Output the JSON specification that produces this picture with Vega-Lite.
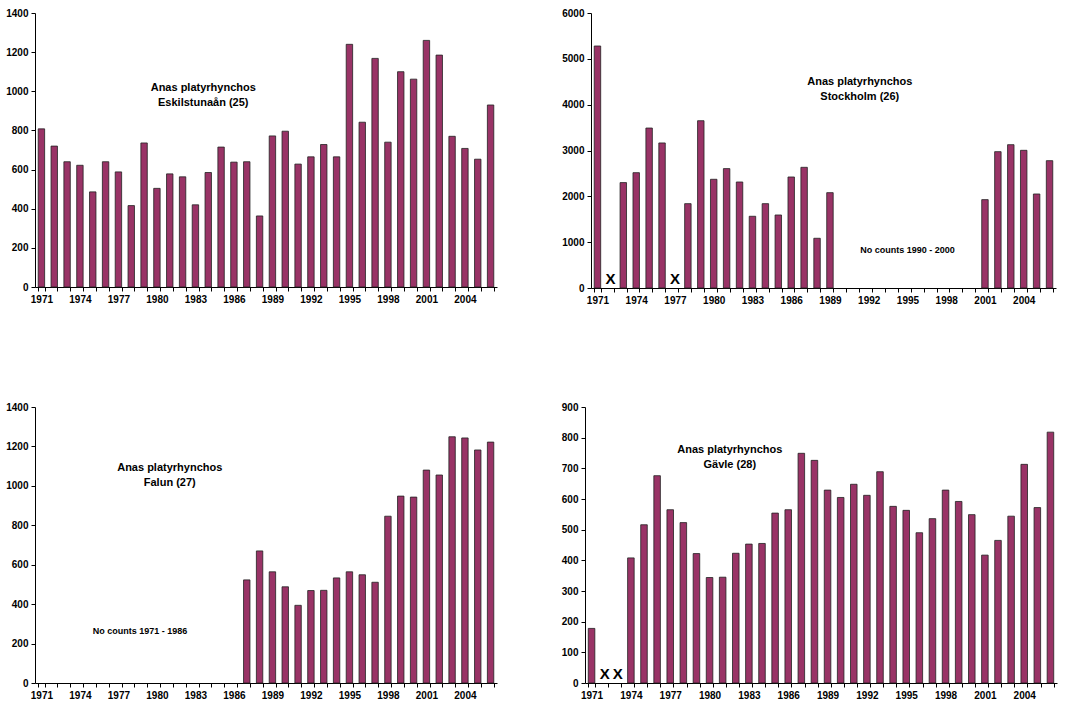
{
  "$schema": "https://vega.github.io/schema/vega-lite/v6.json",
  "background": "white",
  "padding": {"left": 5, "top": 8, "right": 5, "bottom": 5},
  "config": {
    "view": {"stroke": null},
    "font": "Liberation Sans",
    "axis": {"domainColor": "black", "tickColor": "black", "labelColor": "black", "labelFont": "Liberation Sans", "labelFontWeight": "bold", "labelFontSize": 10, "title": null, "grid": false, "tickSize": 4, "labelPadding": 3, "labelOverlap": false, "labelFlush": false},
    "axisY": {"format": "d"},
    "bar": {"fill": "#993366", "stroke": "#222222", "strokeWidth": 0.8},
    "text": {"font": "Liberation Sans", "fontWeight": "bold", "color": "black"}
  },
  "datasets": {
    "eskilstuna": [
      {"year": 1971, "count": 808}, {"year": 1972, "count": 720}, {"year": 1973, "count": 640}, {"year": 1974, "count": 622},
      {"year": 1975, "count": 486}, {"year": 1976, "count": 640}, {"year": 1977, "count": 588}, {"year": 1978, "count": 416},
      {"year": 1979, "count": 736}, {"year": 1980, "count": 504}, {"year": 1981, "count": 578}, {"year": 1982, "count": 563},
      {"year": 1983, "count": 420}, {"year": 1984, "count": 585}, {"year": 1985, "count": 715}, {"year": 1986, "count": 638},
      {"year": 1987, "count": 640}, {"year": 1988, "count": 363}, {"year": 1989, "count": 772}, {"year": 1990, "count": 796},
      {"year": 1991, "count": 628}, {"year": 1992, "count": 665}, {"year": 1993, "count": 728}, {"year": 1994, "count": 665},
      {"year": 1995, "count": 1240}, {"year": 1996, "count": 842}, {"year": 1997, "count": 1168}, {"year": 1998, "count": 740},
      {"year": 1999, "count": 1100}, {"year": 2000, "count": 1062}, {"year": 2001, "count": 1260}, {"year": 2002, "count": 1185},
      {"year": 2003, "count": 770}, {"year": 2004, "count": 708}, {"year": 2005, "count": 653}, {"year": 2006, "count": 930}
    ],
    "stockholm": [
      {"year": 1971, "count": 5280}, {"year": 1973, "count": 2300}, {"year": 1974, "count": 2516}, {"year": 1975, "count": 3490},
      {"year": 1976, "count": 3165}, {"year": 1978, "count": 1840}, {"year": 1979, "count": 3650}, {"year": 1980, "count": 2372},
      {"year": 1981, "count": 2605}, {"year": 1982, "count": 2313}, {"year": 1983, "count": 1565}, {"year": 1984, "count": 1840},
      {"year": 1985, "count": 1593}, {"year": 1986, "count": 2422}, {"year": 1987, "count": 2633}, {"year": 1988, "count": 1085},
      {"year": 1989, "count": 2080}, {"year": 2001, "count": 1928}, {"year": 2002, "count": 2975}, {"year": 2003, "count": 3127},
      {"year": 2004, "count": 3004}, {"year": 2005, "count": 2051}, {"year": 2006, "count": 2778}
    ],
    "stockholm_missing": [{"year": 1972, "note": "X"}, {"year": 1977, "note": "X"}],
    "falun": [
      {"year": 1987, "count": 523}, {"year": 1988, "count": 670}, {"year": 1989, "count": 564}, {"year": 1990, "count": 488},
      {"year": 1991, "count": 394}, {"year": 1992, "count": 469}, {"year": 1993, "count": 470}, {"year": 1994, "count": 533},
      {"year": 1995, "count": 564}, {"year": 1996, "count": 549}, {"year": 1997, "count": 511}, {"year": 1998, "count": 846},
      {"year": 1999, "count": 948}, {"year": 2000, "count": 943}, {"year": 2001, "count": 1080}, {"year": 2002, "count": 1055},
      {"year": 2003, "count": 1249}, {"year": 2004, "count": 1243}, {"year": 2005, "count": 1182}, {"year": 2006, "count": 1222}
    ],
    "gavle": [
      {"year": 1971, "count": 178}, {"year": 1974, "count": 408}, {"year": 1975, "count": 516}, {"year": 1976, "count": 676},
      {"year": 1977, "count": 565}, {"year": 1978, "count": 523}, {"year": 1979, "count": 422}, {"year": 1980, "count": 344},
      {"year": 1981, "count": 345}, {"year": 1982, "count": 423}, {"year": 1983, "count": 453}, {"year": 1984, "count": 455},
      {"year": 1985, "count": 554}, {"year": 1986, "count": 565}, {"year": 1987, "count": 749}, {"year": 1988, "count": 726},
      {"year": 1989, "count": 629}, {"year": 1990, "count": 605}, {"year": 1991, "count": 648}, {"year": 1992, "count": 612},
      {"year": 1993, "count": 689}, {"year": 1994, "count": 576}, {"year": 1995, "count": 563}, {"year": 1996, "count": 490},
      {"year": 1997, "count": 536}, {"year": 1998, "count": 629}, {"year": 1999, "count": 592}, {"year": 2000, "count": 549},
      {"year": 2001, "count": 417}, {"year": 2002, "count": 465}, {"year": 2003, "count": 544}, {"year": 2004, "count": 713},
      {"year": 2005, "count": 572}, {"year": 2006, "count": 818}
    ],
    "gavle_missing": [{"year": 1972, "note": "X"}, {"year": 1973, "note": "X"}]
  },
  "vconcat": [
    {
      "hconcat": [
        {
          "width": 462, "height": 274,
          "layer": [
            {
              "data": {"name": "eskilstuna"},
              "mark": {"type": "bar"},
              "encoding": {
                "x": {"field": "year", "type": "ordinal", "scale": {"domain": [1971,1972,1973,1974,1975,1976,1977,1978,1979,1980,1981,1982,1983,1984,1985,1986,1987,1988,1989,1990,1991,1992,1993,1994,1995,1996,1997,1998,1999,2000,2001,2002,2003,2004,2005,2006], "paddingInner": 0.5, "paddingOuter": 0.25}, "axis": {"tickBand": "extent", "labelAngle": 0, "labelExpr": "(datum.value - 1971) % 3 == 0 ? datum.value : ''"}},
                "y": {"field": "count", "type": "quantitative", "scale": {"domain": [0, 1400]}, "axis": {"values": [0,200,400,600,800,1000,1200,1400], "labelOverlap": false, "tickCount": 8}}
              }
            },
            {
              "data": {"values": [{}]},
              "mark": {"type": "text", "text": ["Anas platyrhynchos", "Eskilstunaån (25)"], "fontSize": 11, "dx": -5, "lineHeight": 15},
              "encoding": {"x": {"datum": 1984, "type": "ordinal"}, "y": {"datum": 1019, "type": "quantitative"}}
            }
          ]
        },
        {
          "width": 465, "height": 275,
          "layer": [
            {
              "data": {"name": "stockholm"},
              "mark": {"type": "bar"},
              "encoding": {
                "x": {"field": "year", "type": "ordinal", "scale": {"domain": [1971,1972,1973,1974,1975,1976,1977,1978,1979,1980,1981,1982,1983,1984,1985,1986,1987,1988,1989,1990,1991,1992,1993,1994,1995,1996,1997,1998,1999,2000,2001,2002,2003,2004,2005,2006], "paddingInner": 0.5, "paddingOuter": 0.25}, "axis": {"tickBand": "extent", "labelAngle": 0, "labelExpr": "(datum.value - 1971) % 3 == 0 ? datum.value : ''"}},
                "y": {"field": "count", "type": "quantitative", "scale": {"domain": [0, 6000]}, "axis": {"values": [0,1000,2000,3000,4000,5000,6000], "labelOverlap": false, "tickCount": 7}}
              }
            },
            {
              "data": {"name": "stockholm_missing"},
              "mark": {"type": "text", "fontSize": 15, "baseline": "bottom", "dy": -1},
              "encoding": {"x": {"field": "year", "type": "ordinal"}, "y": {"datum": 0, "type": "quantitative"}, "text": {"field": "note"}}
            },
            {
              "data": {"values": [{}]},
              "mark": {"type": "text", "text": ["Anas platyrhynchos", "Stockholm (26)"], "fontSize": 11, "dx": 4, "lineHeight": 15},
              "encoding": {"x": {"datum": 1991, "type": "ordinal"}, "y": {"datum": 4495, "type": "quantitative"}}
            },
            {
              "data": {"values": [{}]},
              "mark": {"type": "text", "text": "No counts 1990 - 2000", "fontSize": 9},
              "encoding": {"x": {"datum": 1995, "type": "ordinal"}, "y": {"datum": 830, "type": "quantitative"}}
            }
          ]
        }
      ],
      "spacing": 64
    },
    {
      "hconcat": [
        {
          "width": 462, "height": 276,
          "layer": [
            {
              "data": {"name": "falun"},
              "mark": {"type": "bar"},
              "encoding": {
                "x": {"field": "year", "type": "ordinal", "scale": {"domain": [1971,1972,1973,1974,1975,1976,1977,1978,1979,1980,1981,1982,1983,1984,1985,1986,1987,1988,1989,1990,1991,1992,1993,1994,1995,1996,1997,1998,1999,2000,2001,2002,2003,2004,2005,2006], "paddingInner": 0.5, "paddingOuter": 0.25}, "axis": {"tickBand": "extent", "labelAngle": 0, "labelExpr": "(datum.value - 1971) % 3 == 0 ? datum.value : ''"}},
                "y": {"field": "count", "type": "quantitative", "scale": {"domain": [0, 1400]}, "axis": {"values": [0,200,400,600,800,1000,1200,1400], "labelOverlap": false, "tickCount": 8}}
              }
            },
            {
              "data": {"values": [{}]},
              "mark": {"type": "text", "text": ["Anas platyrhynchos", "Falun (27)"], "fontSize": 11, "lineHeight": 15},
              "encoding": {"x": {"datum": 1981, "type": "ordinal"}, "y": {"datum": 1090, "type": "quantitative"}}
            },
            {
              "data": {"values": [{}]},
              "mark": {"type": "text", "text": "No counts 1971 - 1986", "fontSize": 9, "dx": -4},
              "encoding": {"x": {"datum": 1979, "type": "ordinal"}, "y": {"datum": 264, "type": "quantitative"}}
            }
          ]
        },
        {
          "width": 472, "height": 276,
          "layer": [
            {
              "data": {"name": "gavle"},
              "mark": {"type": "bar"},
              "encoding": {
                "x": {"field": "year", "type": "ordinal", "scale": {"domain": [1971,1972,1973,1974,1975,1976,1977,1978,1979,1980,1981,1982,1983,1984,1985,1986,1987,1988,1989,1990,1991,1992,1993,1994,1995,1996,1997,1998,1999,2000,2001,2002,2003,2004,2005,2006], "paddingInner": 0.5, "paddingOuter": 0.25}, "axis": {"tickBand": "extent", "labelAngle": 0, "labelExpr": "(datum.value - 1971) % 3 == 0 ? datum.value : ''"}},
                "y": {"field": "count", "type": "quantitative", "scale": {"domain": [0, 900]}, "axis": {"values": [0,100,200,300,400,500,600,700,800,900], "labelOverlap": false, "tickCount": 10}}
              }
            },
            {
              "data": {"name": "gavle_missing"},
              "mark": {"type": "text", "fontSize": 15, "baseline": "bottom", "dy": -1},
              "encoding": {"x": {"field": "year", "type": "ordinal"}, "y": {"datum": 0, "type": "quantitative"}, "text": {"field": "note"}}
            },
            {
              "data": {"values": [{}]},
              "mark": {"type": "text", "text": ["Anas platyrhynchos", "Gävle (28)"], "fontSize": 11, "dx": -6, "lineHeight": 15},
              "encoding": {"x": {"datum": 1982, "type": "ordinal"}, "y": {"datum": 760, "type": "quantitative"}}
            }
          ]
        }
      ],
      "spacing": 64
    }
  ],
  "spacing": 97
}
